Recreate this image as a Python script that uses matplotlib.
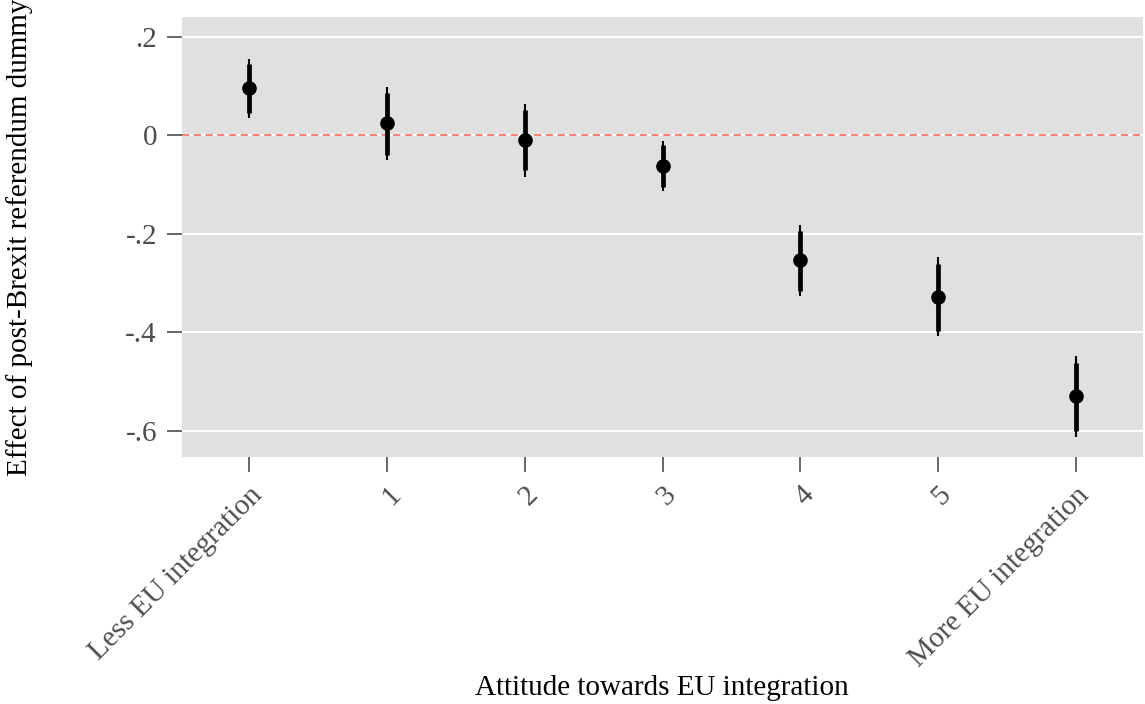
import matplotlib
matplotlib.use("Agg")
import matplotlib.pyplot as plt
import numpy as np

categories = ["Less EU integration", "1", "2", "3", "4", "5", "More EU integration"]
estimate = [0.095, 0.025, -0.009, -0.062, -0.254, -0.329, -0.530]
ci90_low = [0.045, -0.040, -0.071, -0.106, -0.316, -0.397, -0.600]
ci90_high = [0.144, 0.086, 0.052, -0.019, -0.194, -0.261, -0.463]
ci95_low = [0.036, -0.050, -0.084, -0.114, -0.326, -0.408, -0.612]
ci95_high = [0.155, 0.098, 0.063, -0.011, -0.183, -0.247, -0.449]
yticks = [0.2, 0.0, -0.2, -0.4, -0.6]
yticklabels = [".2", "0", "-.2", "-.4", "-.6"]

plt.rcParams["font.family"] = ["Liberation Serif", "DejaVu Serif"]

fig = plt.figure(figsize=(11.45, 7.04), dpi=100)
ax = fig.add_axes([182 / 1145, 1 - 457 / 704, (1143 - 182) / 1145, (457 - 17) / 704])
ax.set_facecolor("#E0E0E0")

x = np.arange(len(categories))
ax.vlines(x, ci95_low, ci95_high, color="black", lw=1.5, zorder=3)
ax.vlines(x, ci90_low, ci90_high, color="black", lw=3.4, zorder=3)
ax.plot(x, estimate, "o", color="black", ms=9.5, zorder=4)
ax.axhline(0, color="#F8766D", ls=(0, (4, 2.5)), lw=1.3, zorder=2)

ax.set_xlim(-0.49, 6.49)
ax.set_ylim(-0.653, 0.24)
ax.set_yticks(yticks)
ax.set_yticklabels(yticklabels)
ax.set_xticks(x)
ax.set_xticklabels(categories, rotation=45, ha="right", va="top",
                   rotation_mode="anchor")
ax.grid(True, color="white", lw=1.5, axis="y", zorder=1)
ax.set_axisbelow(True)
for s in ax.spines.values():
    s.set_visible(False)
ax.tick_params(axis="both", colors="#4D4D4D", labelsize=21, length=11, width=1.2,
               labelcolor="#4D4D4D", pad=7)
ax.set_xlabel("Attitude towards EU integration", fontsize=21, color="black")
ax.set_ylabel("Effect of post-Brexit referendum dummy", fontsize=21, color="black")
ax.xaxis.label.set_va("center")
ax.yaxis.label.set_va("center")
ax.xaxis.set_label_coords(0.499, (457 - 688) / 440)
ax.yaxis.set_label_coords((20 - 182) / 961, 0.5)

fig.savefig("out.png", dpi=100)
